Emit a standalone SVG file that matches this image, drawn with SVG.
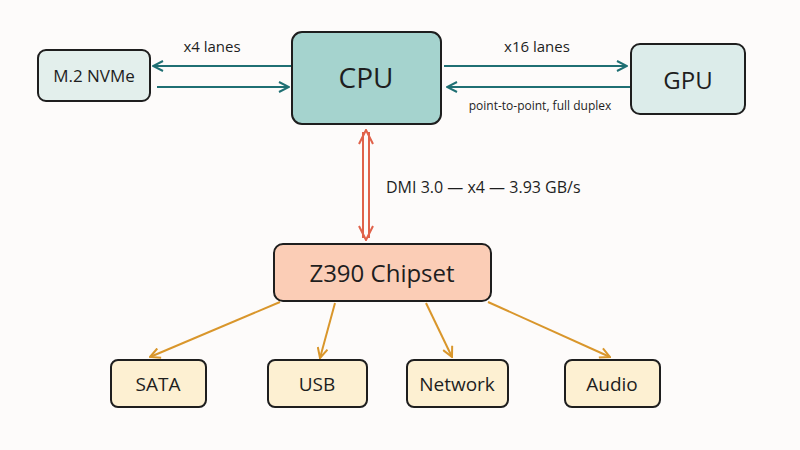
<svg xmlns="http://www.w3.org/2000/svg" width="800" height="450" viewBox="0 0 800 450">
<defs>
<style>
text{font-family:"Open Sans","DejaVu Sans",sans-serif;fill:#1e1e1e}
.box{stroke:#1e1e1e;stroke-width:2}
.t{stroke:#1f6f73;stroke-width:2.2;fill:none}
.o{stroke:#d9962b;stroke-width:2;fill:none}
</style>
<marker id="at" viewBox="0 0 12 12" refX="11" refY="6" markerWidth="12" markerHeight="12" markerUnits="userSpaceOnUse" orient="auto"><path d="M1,1 L11,6 L1,11" fill="none" stroke="#1f6f73" stroke-width="2"/></marker>
<marker id="ao" viewBox="0 0 12 12" refX="11" refY="6" markerWidth="12" markerHeight="12" markerUnits="userSpaceOnUse" orient="auto"><path d="M1,1 L11,6 L1,11" fill="none" stroke="#d9962b" stroke-width="2"/></marker>
<marker id="ar" viewBox="0 0 16 16" refX="15" refY="8" markerWidth="16" markerHeight="16" markerUnits="userSpaceOnUse" orient="auto-start-reverse"><path d="M1,1 L15,8 L1,15" fill="none" stroke="#e0624a" stroke-width="2"/></marker>
</defs>
<rect width="800" height="450" fill="#fdfbfa"/>
<g id="connectors">
<line class="t" x1="292" y1="66" x2="153" y2="66" marker-end="url(#at)"/>
<line class="t" x1="157" y1="87" x2="289" y2="87" marker-end="url(#at)"/>
<line class="t" x1="444" y1="66" x2="627" y2="66" marker-end="url(#at)"/>
<line class="t" x1="630" y1="87" x2="447" y2="87" marker-end="url(#at)"/>
<line x1="363" y1="132" x2="363" y2="238" stroke="#e0624a" stroke-width="2"/>
<line x1="369" y1="132" x2="369" y2="238" stroke="#e0624a" stroke-width="2"/>
<line x1="366" y1="130" x2="366" y2="240" stroke="none" marker-start="url(#ar)" marker-end="url(#ar)"/>
<line class="o" x1="280" y1="302" x2="150" y2="357" marker-end="url(#ao)"/>
<line class="o" x1="335" y1="303" x2="320" y2="358" marker-end="url(#ao)"/>
<line class="o" x1="426" y1="303" x2="452" y2="357" marker-end="url(#ao)"/>
<line class="o" x1="488" y1="302" x2="610" y2="357" marker-end="url(#ao)"/>
</g>
<text x="212" y="52" font-size="15" text-anchor="middle">x4 lanes</text>
<text x="537" y="52" font-size="15" text-anchor="middle">x16 lanes</text>
<text x="540" y="110" font-size="12" text-anchor="middle">point-to-point, full duplex</text>
<text x="386" y="193" font-size="16">DMI 3.0 — x4 — 3.93 GB/s</text>
<g id="m2"><rect class="box" x="38" y="50" width="112" height="51" rx="8" fill="#e3efec"/><text x="94" y="82" font-size="17" text-anchor="middle">M.2 NVMe</text></g>
<g id="cpu"><rect class="box" x="292" y="32" width="149" height="92" rx="10" fill="#a5d3ce"/><text x="366" y="88" font-size="28" text-anchor="middle">CPU</text></g>
<g id="gpu"><rect class="box" x="631" y="44" width="114" height="70" rx="9" fill="#dcecea"/><text x="688" y="89" font-size="24" text-anchor="middle">GPU</text></g>
<g id="chipset"><rect class="box" x="274" y="244" width="217" height="57" rx="9" fill="#fbcdb6"/><text x="382" y="282" font-size="24" text-anchor="middle">Z390 Chipset</text></g>
<g id="sata"><rect class="box" x="111" y="360" width="95" height="47" rx="7" fill="#fdf0d2"/><text x="158" y="391" font-size="19" text-anchor="middle">SATA</text></g>
<g id="usb"><rect class="box" x="268" y="360" width="99" height="47" rx="7" fill="#fdf0d2"/><text x="317" y="391" font-size="19" text-anchor="middle">USB</text></g>
<g id="network"><rect class="box" x="407" y="360" width="101" height="47" rx="7" fill="#fdf0d2"/><text x="457" y="391" font-size="19" text-anchor="middle">Network</text></g>
<g id="audio"><rect class="box" x="565" y="360" width="95" height="47" rx="7" fill="#fdf0d2"/><text x="612" y="391" font-size="19" text-anchor="middle">Audio</text></g>
</svg>
